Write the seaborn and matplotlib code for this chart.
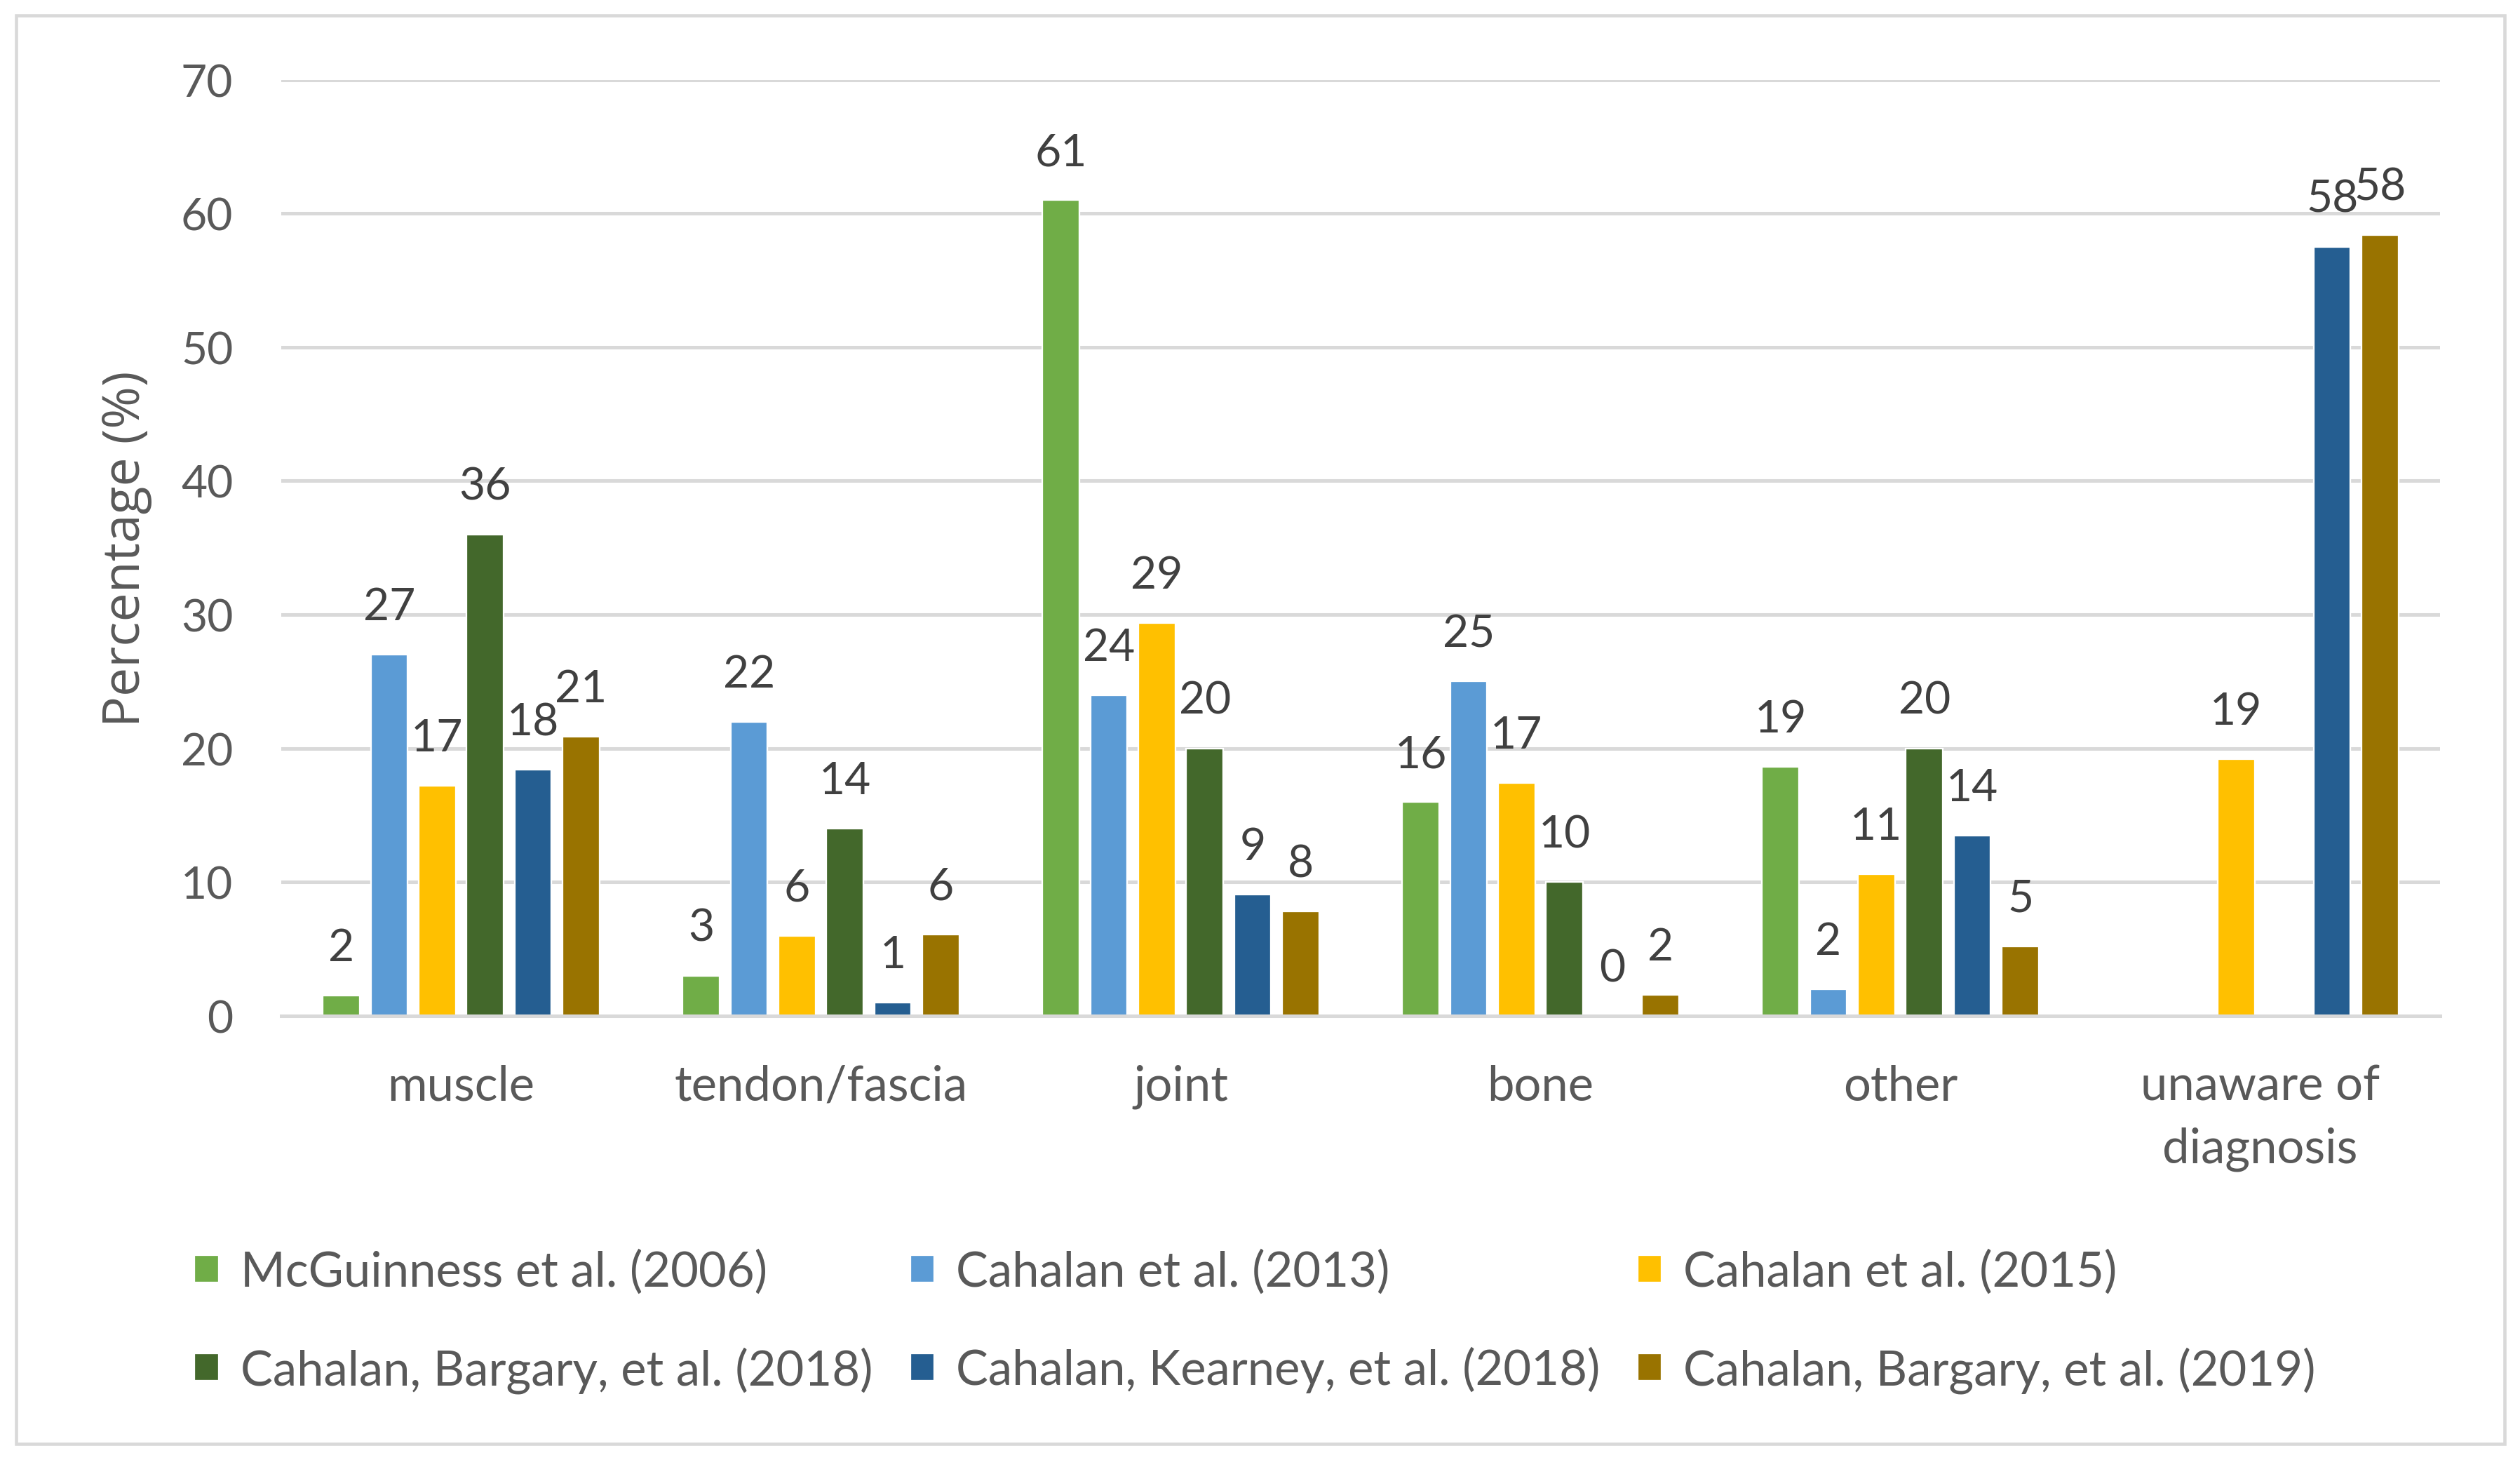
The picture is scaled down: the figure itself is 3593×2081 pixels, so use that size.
import numpy as np
import pandas as pd
import matplotlib
matplotlib.use("Agg")
import matplotlib.pyplot as plt
import seaborn as sns
from matplotlib.patches import Rectangle

categories = ["muscle", "tendon/fascia", "joint", "bone", "other", "unaware of\ndiagnosis"]
series_names = ["McGuinness et al. (2006)", "Cahalan et al. (2013)", "Cahalan et al. (2015)",
                "Cahalan, Bargary, et al. (2018)", "Cahalan, Kearney, et al. (2018)",
                "Cahalan, Bargary, et al. (2019)"]
mcguinness_2006 = [1.5, 3.0, 61.0, 16.0, 18.6, np.nan]
cahalan_2013 = [27.0, 22.0, 24.0, 25.0, 2.0, np.nan]
cahalan_2015 = [17.2, 6.0, 29.4, 17.4, 10.6, 19.2]
bargary_2018 = [36.0, 14.0, 20.0, 10.0, 20.0, np.nan]
kearney_2018 = [18.4, 1.0, 9.1, 0.0, 13.5, 57.5]
bargary_2019 = [20.9, 6.1, 7.8, 1.6, 5.2, 58.4]
yticks = [0, 10, 20, 30, 40, 50, 60, 70]

colors = ["#70AD47", "#5B9BD5", "#FFC000", "#43682B", "#255E91", "#997300"]

all_series = [mcguinness_2006, cahalan_2013, cahalan_2015, bargary_2018, kearney_2018, bargary_2019]
rows = []
for name, vals in zip(series_names, all_series):
    for cat, v in zip(categories, vals):
        if not np.isnan(v):
            rows.append({"category": cat, "study": name, "value": v})
df = pd.DataFrame(rows)

sns.set_theme(style="white")
plt.rcParams["font.family"] = ["Lato", "DejaVu Sans"]

TEXT = "#595959"
LABEL = "#404040"
GRID = "#D9D9D9"

fig = plt.figure(figsize=(21.78, 12.618), dpi=165)
ax = fig.add_axes([0.1116, 0.304, 0.8565, 0.641])

sns.barplot(data=df, x="category", y="value", hue="study", order=categories,
            hue_order=series_names, palette=colors, saturation=1, errorbar=None,
            width=0.8, gap=0.23, ax=ax, legend=True)

ax.set_ylim(0, 70)
ax.set_xlim(-0.5, 5.5)
ax.set_yticks(yticks)
ax.set_yticklabels([str(t) for t in yticks])
ax.yaxis.grid(True, color=GRID, linewidth=2.2)
ax.set_axisbelow(True)
for s in ["top", "right", "left"]:
    ax.spines[s].set_visible(False)
ax.spines["bottom"].set_color(GRID)
ax.spines["bottom"].set_linewidth(2.2)
ax.tick_params(axis="y", length=0, labelsize=28, colors=TEXT, pad=30)
ax.tick_params(axis="x", length=0, labelsize=30, colors=TEXT, pad=30)
for lbl in ax.get_xticklabels():
    lbl.set_linespacing(1.5)
ax.set_xlabel("")
ax.set_ylabel("Percentage (%)", fontsize=32, color=TEXT, family=["Open Sans", "DejaVu Sans"], labelpad=18)

for cont in ax.containers:
    labels = [f"{v:.0f}" for v in cont.datavalues]
    ax.bar_label(cont, labels=labels, padding=17, fontsize=28, color=LABEL)

handles, labs = ax.get_legend_handles_labels()
ax.get_legend().remove()
order = [0, 3, 1, 4, 2, 5]
fig.legend([handles[i] for i in order], [labs[i] for i in order], ncol=3,
           loc="upper left", bbox_to_anchor=(121 / 1568, 0.1445), frameon=False,
           fontsize=30, labelcolor=TEXT, handlelength=0.5, handleheight=0.5,
           handletextpad=0.45, columnspacing=0.78, labelspacing=1.08,
           borderpad=0, borderaxespad=0)

fig.patches.append(Rectangle((10 / 1568, 10 / 908), 1548 / 1568, 888 / 908,
                             transform=fig.transFigure, fill=False,
                             edgecolor=GRID, linewidth=2))

fig.savefig("out.png", dpi=165, facecolor="white")
